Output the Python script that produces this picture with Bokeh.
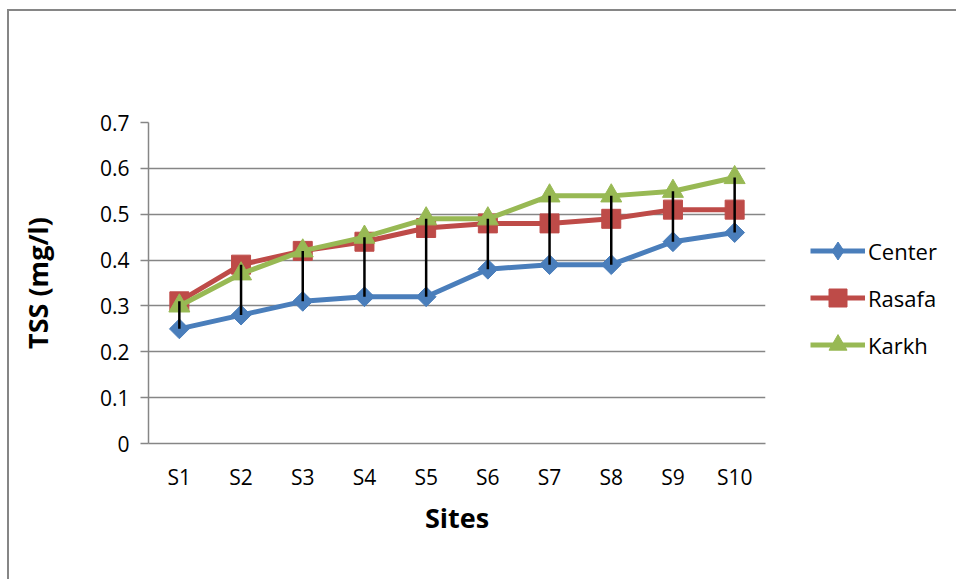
import numpy as np
from bokeh.plotting import figure
from bokeh.layouts import row
from bokeh.models import Legend, LegendItem, FixedTicker, Range1d, FactorRange
from bokeh.embed import file_html
from bokeh.resources import INLINE

sites = ["S1", "S2", "S3", "S4", "S5", "S6", "S7", "S8", "S9", "S10"]
center = [0.25, 0.28, 0.31, 0.32, 0.32, 0.38, 0.39, 0.39, 0.44, 0.46]
rasafa = [0.31, 0.39, 0.42, 0.44, 0.47, 0.48, 0.48, 0.49, 0.51, 0.51]
karkh = [0.30, 0.37, 0.42, 0.45, 0.49, 0.49, 0.54, 0.54, 0.55, 0.58]
series_names = ["Center", "Rasafa", "Karkh"]
y_ticks = [0, 0.1, 0.2, 0.3, 0.4, 0.5, 0.6, 0.7]
y_tick_labels = ["0", "0.1", "0.2", "0.3", "0.4", "0.5", "0.6", "0.7"]

BLUE = "#4A7EBB"
RED = "#BE4B48"
GREEN = "#98B954"
GRAY = "#868686"
FONT = "Open Sans"

p = figure(
    x_range=FactorRange(*sites),
    y_range=Range1d(0, 0.7),
    width=786, height=568,
    output_backend="svg", toolbar_location=None,
    min_border_left=139, min_border_right=30,
    min_border_top=111, min_border_bottom=136,
)
p.outline_line_color = None
p.background_fill_color = "white"
p.border_fill_color = "white"

# grid
p.xgrid.visible = False
p.ygrid.ticker = FixedTicker(ticks=y_ticks[1:])
p.ygrid.grid_line_color = GRAY
p.ygrid.grid_line_width = 1.5

# y axis
p.yaxis.ticker = FixedTicker(ticks=y_ticks)
p.yaxis.major_label_overrides = {t: l for t, l in zip(y_ticks, y_tick_labels)}
p.yaxis.axis_line_color = GRAY
p.yaxis.axis_line_width = 1.5
p.yaxis.major_tick_line_color = GRAY
p.yaxis.major_tick_line_width = 1.5
p.yaxis.major_tick_out = 8
p.yaxis.major_tick_in = 0
p.yaxis.minor_tick_line_color = None
p.yaxis.major_label_standoff = 11
p.yaxis.major_label_text_font = FONT
p.yaxis.major_label_text_font_size = "21px"
p.yaxis.major_label_text_color = "black"
p.yaxis.axis_label = "TSS (mg/l)"
p.yaxis.axis_label_text_font = FONT
p.yaxis.axis_label_text_font_size = "27px"
p.yaxis.axis_label_text_font_style = "bold"
p.yaxis.axis_label_text_color = "black"
p.yaxis.axis_label_standoff = 41

# x axis
p.xaxis.axis_line_color = GRAY
p.xaxis.axis_line_width = 1.5
p.xaxis.major_tick_line_color = None
p.xaxis.major_tick_out = 0
p.xaxis.major_tick_in = 0
p.xaxis.minor_tick_line_color = None
p.xaxis.major_label_standoff = 19
p.xaxis.major_label_text_font = FONT
p.xaxis.major_label_text_font_size = "21px"
p.xaxis.major_label_text_color = "black"
p.xaxis.axis_label = "Sites"
p.xaxis.axis_label_text_font = FONT
p.xaxis.axis_label_text_font_size = "27px"
p.xaxis.axis_label_text_font_style = "bold"
p.xaxis.axis_label_text_color = "black"
p.xaxis.axis_label_standoff = 5

lw = 5
styles = [
    dict(color=BLUE, marker="square", angle=np.pi / 4, size=14, legend_marker="diamond"),
    dict(color=RED, marker="square", angle=0.0, size=19, legend_marker="square"),
    dict(color=GREEN, marker="triangle", angle=0.0, size=21, legend_marker="triangle"),
]
for vals, st in zip([center, rasafa, karkh], styles):
    p.line(sites, vals, line_color=st["color"], line_width=lw)
    p.scatter(sites, vals, marker=st["marker"], angle=st["angle"], size=st["size"],
              fill_color=st["color"], line_color=st["color"])

lows = [min(a, b, c) for a, b, c in zip(center, rasafa, karkh)]
highs = [max(a, b, c) for a, b, c in zip(center, rasafa, karkh)]
p.segment(x0=sites, y0=lows, x1=sites, y1=highs, line_color="black", line_width=2.5)

# legend panel (separate figure so it is not clipped by the plot frame)
lf = figure(
    width=161, height=568, x_range=Range1d(0, 1), y_range=Range1d(0, 1),
    output_backend="svg", toolbar_location=None,
    x_axis_type=None, y_axis_type=None,
    min_border=0, min_border_left=0, min_border_right=0,
    min_border_top=0, min_border_bottom=0,
)
lf.grid.visible = False
lf.outline_line_color = None
lf.background_fill_color = "white"
lf.border_fill_color = "white"

# proxy renderers placed outside the visible range: only their legend glyphs show
items = []
for name, st in zip(series_names, styles):
    r1 = lf.line([-5, -4], [-5, -5], line_color=st["color"], line_width=lw)
    r2 = lf.scatter([-5], [-5], marker=st["legend_marker"],
                    fill_color=st["color"], line_color=st["color"])
    items.append(LegendItem(label=name, renderers=[r1, r2]))

legend = Legend(
    items=items,
    location=(15, 76),
    glyph_width=55, glyph_height=45, label_height=20,
    spacing=2, padding=0, margin=0, label_standoff=3,
    label_text_font=FONT, label_text_font_size="22px", label_text_color="black",
    border_line_color=None, background_fill_alpha=0,
)
lf.add_layout(legend, "center")

layout = row(
    p, lf,
    styles={"border-left": "2px solid #868686", "border-top": "2px solid #868686",
            "margin-top": "9px", "margin-left": "7px"},
)

open("out.html", "w").write(file_html(layout, INLINE))
